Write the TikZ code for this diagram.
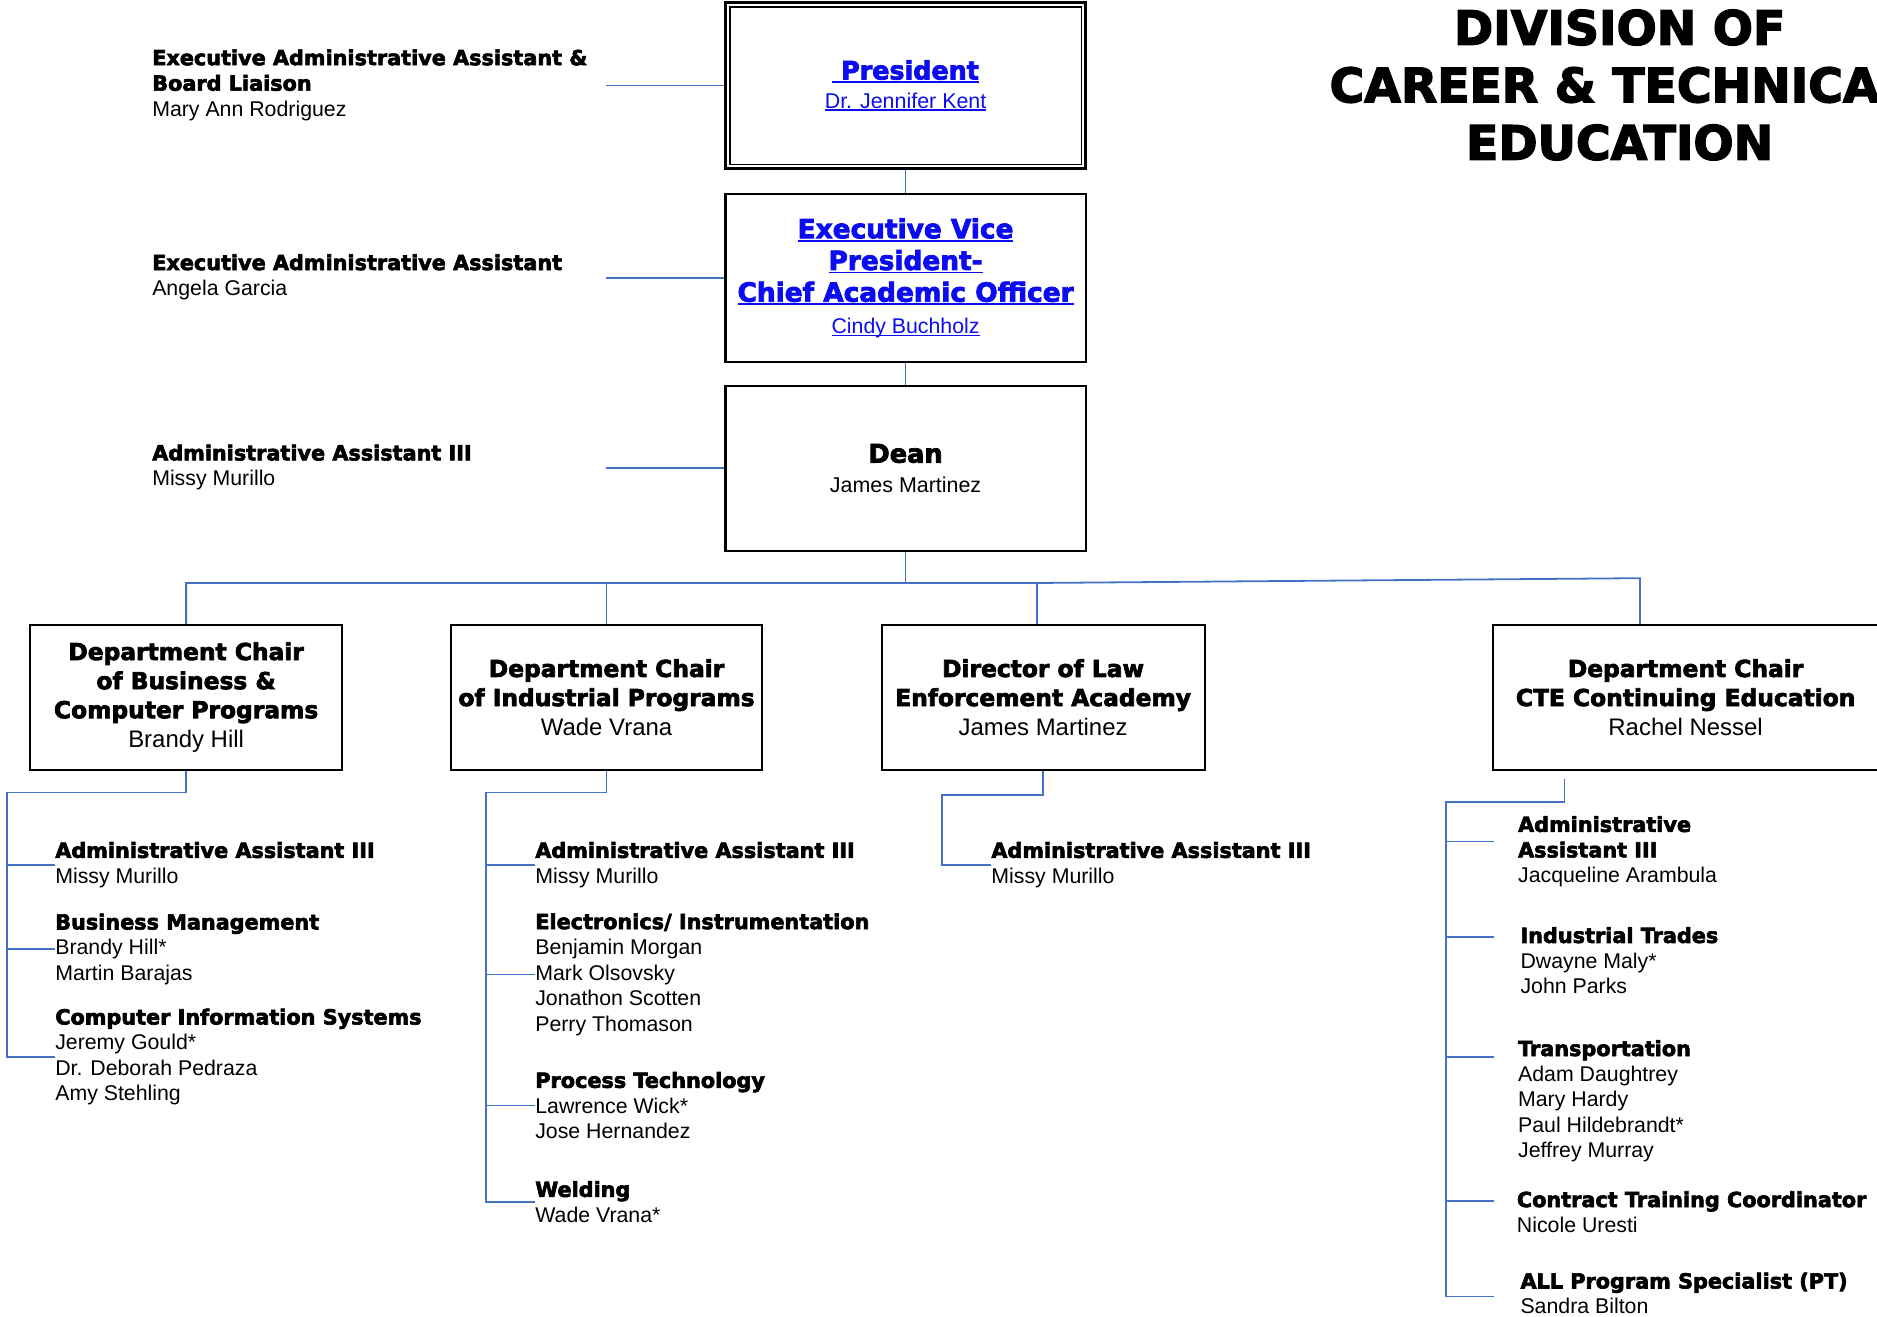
\documentclass[tikz,border=0pt]{standalone}
\usepackage{fontspec}
\setmainfont{Liberation Sans}
\newfontfamily\heavyfont{DejaVu Sans}[Scale=0.975,BoldFeatures={FakeBold=3}]
\usetikzlibrary{positioning}
\definecolor{connblue}{RGB}{68,114,196}
\definecolor{linkblue}{RGB}{12,12,240}
\newcommand\hd{\heavyfont\bfseries}
\newsavebox\lnkbox
\newcommand\lnk[1]{\sbox\lnkbox{#1}\rlap{\usebox\lnkbox}\rule[-0.13em]{\wd\lnkbox}{0.07em}}

\begin{document}
\begin{tikzpicture}[x=1pt,y=-1pt]
		\tikzstyle{topbox}=[rectangle,draw,line width=2pt,minimum width=301pt,align=center,inner sep=0pt];
		\tikzstyle{chairbox}=[rectangle,draw,line width=1.7pt,minimum height=121pt,align=center,inner sep=0pt,
			font=\fontsize{20}{24.3}\selectfont];
		\tikzstyle{staff}=[anchor=west,align=left,inner sep=0pt,font=\fontsize{17.8}{21.3}\selectfont];
		\tikzstyle{conn}=[draw=connblue,line width=1.5pt];

		\useasboundingbox (0,0) rectangle (1568,1100);
		\clip (0,0) rectangle (1568,1100);

		% title
		\node[align=center,inner sep=0pt,font=\hd\fontsize{40.5}{48}\selectfont](title) at (1353,71)
			{DIVISION OF\\CAREER \& TECHNICAL\\EDUCATION};

		% president, vice president, dean
		\node[topbox,minimum height=139pt,line width=2.5pt,text=linkblue,font=\fontsize{17.9}{24}\selectfont](pres) at (756.5,71.5)
			{{\hd\fontsize{21.75}{24}\selectfont\lnk{\ President}}\\\lnk{Dr. Jennifer Kent}};
		\draw[line width=1.2pt]([shift={(5,5)}]pres.north west) rectangle ([shift={(-5,-5)}]pres.south east);
		\node[topbox,minimum height=140pt,below=19pt of pres,text=linkblue,font=\hd\fontsize{22.6}{26.5}\selectfont](evp)
			{\lnk{Executive Vice}\\\lnk{President-}\\\lnk{Chief Academic Officer}\\
			{\normalfont\fontsize{17.8}{26.5}\selectfont\lnk{Cindy Buchholz}}};
		\node[topbox,minimum height=138pt,below=18pt of evp,font=\fontsize{17.9}{25}\selectfont](dean)
			{{\hd\fontsize{21.95}{25}\selectfont Dean}\\James Martinez};
		\draw[conn](pres.south)--(evp.north);
		\draw[conn](evp.south)--(dean.north);

		% assistants on the left
		\coordinate(lft) at (506,0);
		\node[staff](eaa) at (127,71){{\hd Executive Administrative Assistant \&}\\{\hd Board Liaison}\\Mary Ann Rodriguez};
		\node[staff](exa) at (127,231.5){{\hd Executive Administrative Assistant}\\Angela Garcia};
		\node[staff](aaa) at (127,390.5){{\hd Administrative Assistant III}\\Missy Murillo};
		\draw[conn](pres.west)--(pres.west -| lft);
		\draw[conn](evp.west)--(evp.west -| lft);
		\draw[conn](dean.west)--(dean.west -| lft);

		% chairs
		\node[chairbox,minimum width=261pt](chairA) at (155.5,582.5)
			{{\hd Department Chair}\\{\hd of Business \&}\\{\hd Computer Programs}\\Brandy Hill};
		\node[chairbox,minimum width=260pt,right=89pt of chairA](chairB)
			{{\hd Department Chair}\\{\hd of Industrial Programs}\\Wade Vrana};
		\node[chairbox,minimum width=270pt,right=98pt of chairB](chairC)
			{{\hd Director of Law}\\{\hd Enforcement Academy}\\James Martinez};
		\node[chairbox,minimum width=322pt,right=239pt of chairC](chairD)
			{{\hd Department Chair}\\{\hd CTE Continuing Education}\\Rachel Nessel};
		\coordinate(bus) at (0,487);
		\coordinate(busD) at (1370,483);
		\coordinate(cC) at ([xshift=-5pt]chairC.north);
		\draw[conn](dean.south)--(dean.south |- bus);
		\draw[conn](chairA.north)--(chairA.north |- bus)--(cC |- bus)--(busD)--(busD |- chairD.north);
		\draw[conn](chairB.north)--(chairB.north |- bus);
		\draw[conn](cC)--(cC |- bus);

		% business & computer programs
		\coordinate(trA) at (6,662);
		\node[staff](aaA) at (46,722.5){{\hd Administrative Assistant III}\\Missy Murillo};
		\node[staff](bmA) at (46,793){{\hd Business Management}\\Brandy Hill*\\Martin Barajas};
		\node[staff](cisA) at (46,883){{\hd Computer Information Systems}\\Jeremy Gould*\\Dr. Deborah Pedraza\\Amy Stehling};
		\draw[conn](chairA.south) |- (trA) |- (cisA.west);
		\draw[conn](trA |- aaA.west)--(aaA.west);
		\draw[conn](trA |- bmA.west)--(bmA.west);

		% industrial programs
		\coordinate(trB) at (406,662);
		\node[staff](aaB) at (447,722.5){{\hd Administrative Assistant III}\\Missy Murillo};
		\node[staff](elB) at (447,814){{\hd Electronics/ Instrumentation}\\Benjamin Morgan\\Mark Olsovsky\\Jonathon Scotten\\Perry Thomason};
		\node[staff](ptB) at (447,923.5){{\hd Process Technology}\\Lawrence Wick*\\Jose Hernandez};
		\node[staff](wdB) at (447,1004){{\hd Welding}\\Wade Vrana*};
		\draw[conn](chairB.south) |- (trB) |- (wdB.west);
		\draw[conn](trB |- aaB.west)--(aaB.west);
		\draw[conn](trB |- elB.west)--(elB.west);
		\draw[conn](trB |- ptB.west)--(ptB.west);

		% law enforcement academy
		\coordinate(trC) at (787,664);
		\node[staff](aaC) at (828,722.5){{\hd Administrative Assistant III}\\Missy Murillo};
		\draw[conn](chairC.south) |- (trC) |- (aaC.west);

		% cte continuing education
		\coordinate(topD) at (1307,651);
		\coordinate(trD) at (1208,670);
		\node[staff](aaD) at (1268,711.5){{\hd Administrative}\\{\hd Assistant III}\\Jacqueline Arambula};
		\node[staff](itD) at (1270,802.5){{\hd Industrial Trades}\\Dwayne Maly*\\John Parks};
		\node[staff](tpD) at (1268,920){{\hd Transportation}\\Adam Daughtrey\\Mary Hardy\\Paul Hildebrandt*\\Jeffrey Murray};
		\node[staff](ctD) at (1267,1012.5){{\hd Contract Training Coordinator}\\Nicole Uresti};
		\node[staff](alD) at (1270,1080.5){{\hd ALL Program Specialist (PT)}\\Sandra Bilton};
		\coordinate(tk1) at (1248,703);
		\coordinate(tk2) at (1248,783);
		\coordinate(tk3) at (1248,883);
		\coordinate(tk4) at (1248,1003);
		\coordinate(tk5) at (1248,1083);
		\draw[conn](topD) |- (trD) |- (tk5);
		\draw[conn](trD |- tk1)--(tk1);
		\draw[conn](trD |- tk2)--(tk2);
		\draw[conn](trD |- tk3)--(tk3);
		\draw[conn](trD |- tk4)--(tk4);
\end{tikzpicture}
\end{document}
